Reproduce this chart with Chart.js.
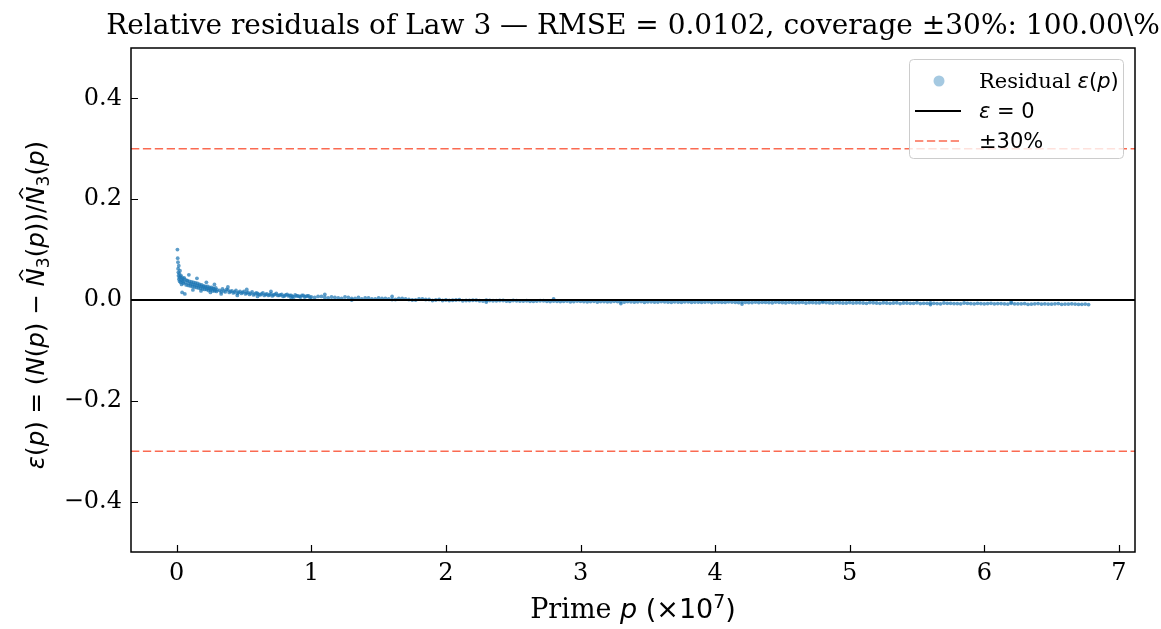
<!DOCTYPE html>
<html>
<head>
    <meta charset="utf-8">
    <title>Relative residuals of Law 3</title>
    <script src="https://cdn.jsdelivr.net/npm/chart.js"></script>
    <style>body { margin: 0; background: #fff; }</style>
</head>
<body>
    <canvas id="Chart" width="1161" height="629"></canvas>
    <script>
        // axis settings (prime in units of 1e7)
        const xTicks = [0, 1, 2, 3, 4, 5, 6, 7];
        const yTicks = [-0.4, -0.2, 0.0, 0.2, 0.4];
        const xLimits = [-0.34, 7.12];
        const yLimits = [-0.5, 0.5];
        const bandLevel = 0.3;

        // residuals, small primes
        const headX = [0.005, 0.007, 0.009, 0.010, 0.012, 0.013, 0.015, 0.016, 0.018, 0.020, 0.022, 0.024, 0.026, 0.028, 0.030, 0.033, 0.036, 0.039, 0.040, 0.042, 0.045, 0.048];
        const headY = [0.100, 0.083, 0.075, 0.062, 0.055, 0.048, 0.068, 0.041, 0.052, 0.044, 0.037, 0.058, 0.046, 0.035, 0.049, 0.040, 0.031, 0.045, 0.015, 0.038, 0.042, 0.033];

        const earlyX = [0.05, 0.055, 0.06, 0.065, 0.07, 0.075, 0.08, 0.085, 0.09, 0.095, 0.10, 0.105, 0.11, 0.115, 0.12, 0.125, 0.13, 0.135, 0.14, 0.145, 0.15, 0.155, 0.16, 0.165, 0.17, 0.175, 0.18, 0.185, 0.19, 0.195, 0.20, 0.205, 0.21, 0.215, 0.22, 0.225, 0.23, 0.235, 0.24, 0.245, 0.25, 0.255, 0.26, 0.265, 0.27, 0.275, 0.28, 0.285, 0.29, 0.295, 0.30];
        const earlyY = [0.036, 0.044, 0.041, 0.034, 0.030, 0.039, 0.038, 0.029, 0.033, 0.037, 0.028, 0.032, 0.036, 0.027, 0.031, 0.035, 0.026, 0.030, 0.034, 0.025, 0.029, 0.033, 0.024, 0.028, 0.031, 0.023, 0.027, 0.030, 0.022, 0.026, 0.028, 0.021, 0.025, 0.027, 0.021, 0.023, 0.027, 0.019, 0.023, 0.025, 0.020, 0.022, 0.025, 0.018, 0.022, 0.023, 0.018, 0.020, 0.024, 0.017, 0.020];

        const midX = [0.32, 0.33, 0.34, 0.35, 0.36, 0.37, 0.38, 0.39, 0.40, 0.41, 0.42, 0.43, 0.44, 0.45, 0.46, 0.47, 0.48, 0.49, 0.50, 0.51, 0.52, 0.53, 0.54, 0.55, 0.56, 0.57, 0.58, 0.59, 0.60, 0.61, 0.62, 0.63, 0.64, 0.65, 0.66, 0.67, 0.68, 0.69, 0.70, 0.71, 0.72, 0.73, 0.74, 0.75, 0.76, 0.77, 0.78, 0.79, 0.80, 0.81, 0.82, 0.83, 0.84, 0.85, 0.86, 0.87, 0.88, 0.89, 0.90, 0.91, 0.92, 0.93, 0.94, 0.95, 0.96, 0.97, 0.98, 0.99, 1.00];
        const midY = [0.019, 0.016, 0.022, 0.018, 0.016, 0.021, 0.020, 0.015, 0.017, 0.018, 0.014, 0.016, 0.019, 0.013, 0.015, 0.017, 0.013, 0.015, 0.017, 0.012, 0.014, 0.015, 0.011, 0.013, 0.016, 0.010, 0.012, 0.014, 0.013, 0.011, 0.010, 0.012, 0.014, 0.009, 0.011, 0.012, 0.009, 0.010, 0.012, 0.008, 0.010, 0.011, 0.013, 0.009, 0.009, 0.010, 0.011, 0.007, 0.008, 0.010, 0.011, 0.008, 0.009, 0.009, 0.007, 0.006, 0.010, 0.008, 0.008, 0.007, 0.006, 0.009, 0.009, 0.006, 0.007, 0.008, 0.008, 0.005, 0.006];

        const lateX = [1.025, 1.05, 1.075, 1.10, 1.125, 1.15, 1.175, 1.20, 1.225, 1.25, 1.275, 1.30, 1.325, 1.35, 1.375, 1.40, 1.425, 1.45, 1.475, 1.50, 1.525, 1.55, 1.575, 1.60, 1.625, 1.65, 1.675, 1.70, 1.725, 1.75, 1.775, 1.80, 1.825, 1.85, 1.875, 1.90, 1.925, 1.95, 1.975, 2.00];
        const lateY = [0.005, 0.007, 0.007, 0.005, 0.004, 0.006, 0.005, 0.004, 0.003, 0.006, 0.005, 0.003, 0.003, 0.005, 0.002, 0.004, 0.004, 0.002, 0.002, 0.004, 0.003, 0.003, 0.002, 0.001, 0.001, 0.003, 0.003, 0.002, 0.001, 0.000, 0.000, 0.002, 0.002, 0.001, 0.001, -0.001, 0.000, 0.001, -0.001, 0.000];

        // residuals for large primes, two interleaved strands
        const tailX1 = [2.05, 2.10, 2.15, 2.20, 2.25, 2.30, 2.35, 2.40, 2.45, 2.50, 2.55, 2.60, 2.65, 2.70, 2.75, 2.80, 2.85, 2.90, 2.95, 3.00,
            3.05, 3.10, 3.15, 3.20, 3.25, 3.30, 3.35, 3.40, 3.45, 3.50, 3.55, 3.60, 3.65, 3.70, 3.75, 3.80, 3.85, 3.90, 3.95, 4.00,
            4.05, 4.10, 4.15, 4.20, 4.25, 4.30, 4.35, 4.40, 4.45, 4.50, 4.55, 4.60, 4.65, 4.70, 4.75, 4.80, 4.85, 4.90, 4.95, 5.00,
            5.05, 5.10, 5.15, 5.20, 5.25, 5.30, 5.35, 5.40, 5.45, 5.50, 5.55, 5.60, 5.65, 5.70, 5.75, 5.80, 5.85, 5.90, 5.95, 6.00,
            6.05, 6.10, 6.15, 6.20, 6.25, 6.30, 6.35, 6.40, 6.45, 6.50, 6.55, 6.60, 6.65, 6.70, 6.75];
        const tailY1 = [-0.0005, 0.0005, -0.001, -0.0005, -0.0015, -0.0005, -0.0015, -0.001, -0.002, -0.001, -0.002, -0.0015, -0.0025, -0.0015, -0.0025, -0.002, -0.003, -0.002, -0.003, -0.0025,
            -0.0035, -0.0025, -0.003, -0.0035, -0.0025, -0.0035, -0.003, -0.004, -0.003, -0.0035, -0.004, -0.003, -0.004, -0.0035, -0.0045, -0.0035, -0.004, -0.0045, -0.0035, -0.004,
            -0.0045, -0.0035, -0.0045, -0.004, -0.005, -0.004, -0.0045, -0.005, -0.004, -0.005, -0.0045, -0.0055, -0.0045, -0.005, -0.0055, -0.0045, -0.0055, -0.005, -0.006, -0.005,
            -0.0055, -0.006, -0.005, -0.006, -0.0055, -0.0065, -0.0055, -0.006, -0.0065, -0.0055, -0.0065, -0.006, -0.007, -0.006, -0.0065, -0.007, -0.006, -0.007, -0.0065, -0.0075,
            -0.0065, -0.007, -0.0075, -0.0065, -0.0075, -0.007, -0.008, -0.007, -0.0075, -0.008, -0.007, -0.008, -0.0075, -0.0085, -0.008];
        const tailX2 = [2.025, 2.075, 2.125, 2.175, 2.225, 2.275, 2.325, 2.375, 2.425, 2.475, 2.525, 2.575, 2.625, 2.675, 2.725, 2.775, 2.825, 2.875, 2.925, 2.975,
            3.025, 3.075, 3.125, 3.175, 3.225, 3.275, 3.325, 3.375, 3.425, 3.475, 3.525, 3.575, 3.625, 3.675, 3.725, 3.775, 3.825, 3.875, 3.925, 3.975,
            4.025, 4.075, 4.125, 4.175, 4.225, 4.275, 4.325, 4.375, 4.425, 4.475, 4.525, 4.575, 4.625, 4.675, 4.725, 4.775, 4.825, 4.875, 4.925, 4.975,
            5.025, 5.075, 5.125, 5.175, 5.225, 5.275, 5.325, 5.375, 5.425, 5.475, 5.525, 5.575, 5.625, 5.675, 5.725, 5.775, 5.825, 5.875, 5.925, 5.975,
            6.025, 6.075, 6.125, 6.175, 6.225, 6.275, 6.325, 6.375, 6.425, 6.475, 6.525, 6.575, 6.625, 6.675, 6.725, 6.775];
        const tailY2 = [-0.001, 0.0, -0.0015, -0.001, -0.0005, -0.002, -0.001, -0.0015, -0.001, -0.0025, -0.0015, -0.002, -0.0025, -0.002, -0.0015, -0.003, -0.0025, -0.0025, -0.0035, -0.002,
            -0.003, -0.003, -0.004, -0.003, -0.0035, -0.003, -0.004, -0.0035, -0.0035, -0.0045, -0.0035, -0.004, -0.0035, -0.0045, -0.004, -0.0035, -0.0045, -0.004, -0.004, -0.005,
            -0.004, -0.0045, -0.004, -0.005, -0.0045, -0.005, -0.005, -0.0045, -0.0055, -0.0045, -0.0055, -0.005, -0.005, -0.006, -0.005, -0.0055, -0.005, -0.006, -0.0055, -0.006,
            -0.006, -0.0055, -0.0065, -0.0055, -0.0065, -0.006, -0.006, -0.007, -0.006, -0.0065, -0.007, -0.0065, -0.0065, -0.0075, -0.0065, -0.007, -0.0075, -0.0065, -0.0075, -0.007,
            -0.007, -0.0075, -0.007, -0.008, -0.0075, -0.0075, -0.0085, -0.0075, -0.008, -0.008, -0.0075, -0.0085, -0.008, -0.008, -0.0085, -0.009];

        // stray points off the main band
        const strayX = [0.06, 0.09, 0.12, 0.15, 0.18, 0.22, 0.25, 0.28, 0.33, 0.38, 0.45, 0.52, 0.60, 0.70, 0.85, 1.10, 1.30, 1.60, 2.30, 2.80, 3.30, 4.20, 4.80, 5.60, 6.20];
        const strayY = [0.012, 0.050, 0.020, 0.043, 0.018, 0.035, 0.015, 0.031, 0.012, 0.026, 0.009, 0.021, 0.007, 0.017, 0.004, 0.011, 0.000, 0.007, -0.004, 0.002, -0.007, -0.008, -0.002, -0.009, -0.004];

        const residualX = [].concat(headX, earlyX, midX, lateX, tailX1, tailX2, strayX);
        const residualY = [].concat(headY, earlyY, midY, lateY, tailY1, tailY2, strayY);
        const residualPoints = residualX.map((x, i) => ({ x: x, y: residualY[i] }));

        const serif = "'DejaVu Serif', serif";
        const sans = "'DejaVu Sans', sans-serif";
        const blue = 'rgba(31, 119, 180, 0.72)';
        const red = 'rgba(250, 90, 62, 0.9)';

        // draws a mixed string: [text, style] parts (serif, r, i, sub, sup, hat)
        function drawParts(ctx, parts, x, y, size, align) {
            function fontFor(style) {
                if (style === 'serif') return size + 'px ' + serif;
                if (style === 'i' || style === 'hat') return 'italic ' + size + 'px ' + sans;
                if (style === 'sub' || style === 'sup') return (size * 0.7) + 'px ' + sans;
                return size + 'px ' + sans;
            }
            let total = 0;
            parts.forEach(p => { ctx.font = fontFor(p[1]); total += ctx.measureText(p[0]).width; });
            let cx = align === 'center' ? x - total / 2 : x;
            ctx.textAlign = 'left';
            ctx.textBaseline = 'alphabetic';
            parts.forEach(p => {
                ctx.font = fontFor(p[1]);
                const w = ctx.measureText(p[0]).width;
                let dy = 0;
                if (p[1] === 'sub') dy = size * 0.22;
                if (p[1] === 'sup') dy = -size * 0.38;
                ctx.fillText(p[0], cx, y + dy);
                if (p[1] === 'hat') {
                    const mx = cx + w * 0.62;
                    ctx.beginPath();
                    ctx.lineWidth = size * 0.06;
                    ctx.moveTo(mx - w * 0.28, y - size * 0.86);
                    ctx.lineTo(mx, y - size * 1.0);
                    ctx.lineTo(mx + w * 0.28, y - size * 0.86);
                    ctx.stroke();
                }
                cx += w;
            });
            return total;
        }

        const decorations = {
            id: 'decorations',
            afterDraw(chart) {
                const ctx = chart.ctx;
                const a = chart.chartArea;
                const xs = chart.scales.x, ys = chart.scales.y;
                ctx.save();
                ctx.fillStyle = '#000';
                ctx.strokeStyle = '#000';

                // frame
                ctx.lineWidth = 1.5;
                ctx.strokeRect(a.left, a.top, a.right - a.left, a.bottom - a.top);

                // inward ticks
                ctx.lineWidth = 1.2;
                ctx.beginPath();
                xTicks.forEach(v => {
                    const px = Math.round(xs.getPixelForValue(v)) + 0.5;
                    ctx.moveTo(px, a.bottom);
                    ctx.lineTo(px, a.bottom - 7);
                });
                yTicks.forEach(v => {
                    const py = Math.round(ys.getPixelForValue(v)) + 0.5;
                    ctx.moveTo(a.left, py);
                    ctx.lineTo(a.left + 7, py);
                });
                ctx.stroke();

                // title
                const mid = (a.left + a.right) / 2;
                ctx.font = '28px ' + serif;
                ctx.textAlign = 'center';
                ctx.textBaseline = 'alphabetic';
                ctx.fillText('Relative residuals of Law 3 \u2014 RMSE = 0.0102, coverage \u00b130%: 100.00\\%', mid, 34);

                // x label
                drawParts(ctx, [['Prime ', 'serif'], ['p', 'i'], [' (\u00d710', 'r'], ['7', 'sup'], [')', 'r']], mid, 618, 27, 'center');

                // y label
                ctx.save();
                ctx.translate(44, (a.top + a.bottom) / 2 + 5);
                ctx.rotate(-Math.PI / 2);
                drawParts(ctx, [['\u03b5', 'i'], ['(', 'r'], ['p', 'i'], [') = (', 'r'], ['N', 'i'], ['(', 'r'], ['p', 'i'], [') \u2212 ', 'r'],
                    ['N', 'hat'], ['3', 'sub'], ['(', 'r'], ['p', 'i'], ['))/', 'r'], ['N', 'hat'], ['3', 'sub'], ['(', 'r'], ['p', 'i'], [')', 'r']], 0, 0, 24.5, 'center');
                ctx.restore();

                // legend
                const lx = 909.5, ly = 59.5, lw = 214, lh = 99;
                ctx.beginPath();
                ctx.roundRect(lx, ly, lw, lh, 4);
                ctx.fillStyle = 'rgba(255, 255, 255, 0.8)';
                ctx.fill();
                ctx.strokeStyle = '#cccccc';
                ctx.lineWidth = 1;
                ctx.stroke();

                ctx.fillStyle = 'rgba(31, 119, 180, 0.4)';
                ctx.beginPath();
                ctx.arc(939, 81, 5.5, 0, Math.PI * 2);
                ctx.fill();

                ctx.strokeStyle = '#000';
                ctx.lineWidth = 2;
                ctx.beginPath();
                ctx.moveTo(915, 111);
                ctx.lineTo(961, 111);
                ctx.stroke();

                ctx.strokeStyle = red;
                ctx.lineWidth = 1.5;
                ctx.setLineDash([8.3, 3.6]);
                ctx.beginPath();
                ctx.moveTo(915, 141);
                ctx.lineTo(961, 141);
                ctx.stroke();
                ctx.setLineDash([]);

                ctx.fillStyle = '#000';
                ctx.strokeStyle = '#000';
                drawParts(ctx, [['Residual ', 'serif'], ['\u03b5', 'i'], ['(', 'r'], ['p', 'i'], [')', 'r']], 979, 88, 21, 'left');
                drawParts(ctx, [['\u03b5', 'i'], [' = 0', 'r']], 979, 118, 21, 'left');
                drawParts(ctx, [['\u00b130%', 'r']], 979, 148, 21, 'left');

                ctx.restore();
            }
        };

        const hLine = (level) => [{ x: xLimits[0], y: level }, { x: xLimits[1], y: level }];

        var ctx = document.getElementById('Chart').getContext('2d');
        var chart = new Chart(ctx, {
            type: 'scatter',
            data: {
                datasets: [{
                    label: 'Residual \u03b5(p)',
                    data: residualPoints,
                    backgroundColor: blue,
                    borderWidth: 0,
                    pointRadius: 1.9,
                    order: 2
                }, {
                    type: 'line',
                    label: '\u03b5 = 0',
                    data: hLine(0),
                    borderColor: '#000',
                    borderWidth: 2,
                    pointRadius: 0,
                    order: 1
                }, {
                    type: 'line',
                    label: '\u00b130%',
                    data: hLine(bandLevel),
                    borderColor: red,
                    borderWidth: 1.6,
                    borderDash: [8.3, 3.6],
                    pointRadius: 0,
                    order: 1
                }, {
                    type: 'line',
                    label: '-30%',
                    data: hLine(-bandLevel),
                    borderColor: red,
                    borderWidth: 1.6,
                    borderDash: [8.3, 3.6],
                    pointRadius: 0,
                    order: 1
                }]
            },
            options: {
                responsive: false,
                animation: false,
                devicePixelRatio: 1,
                layout: { padding: { left: 0, top: 48, right: 26, bottom: 0 } },
                plugins: {
                    legend: { display: false },
                    title: { display: false },
                    tooltip: { enabled: false }
                },
                scales: {
                    x: {
                        type: 'linear',
                        min: xLimits[0],
                        max: xLimits[1],
                        afterBuildTicks: s => { s.ticks = xTicks.map(v => ({ value: v })); },
                        afterFit: s => { s.height = 77; },
                        grid: { display: false, drawTicks: false, tickLength: 0 },
                        border: { display: false },
                        ticks: {
                            color: '#000',
                            padding: 7,
                            font: { family: serif, size: 24 },
                            callback: v => String(v)
                        }
                    },
                    y: {
                        type: 'linear',
                        min: yLimits[0],
                        max: yLimits[1],
                        afterBuildTicks: s => { s.ticks = yTicks.map(v => ({ value: v })); },
                        afterFit: s => { s.width = 131; },
                        grid: { display: false, drawTicks: false, tickLength: 0 },
                        border: { display: false },
                        ticks: {
                            color: '#000',
                            padding: 9,
                            font: { family: serif, size: 24 },
                            callback: v => (v < 0 ? '\u2212' : '') + Math.abs(v).toFixed(1)
                        }
                    }
                }
            },
            plugins: [decorations]
        });
    </script>
</body>
</html>
